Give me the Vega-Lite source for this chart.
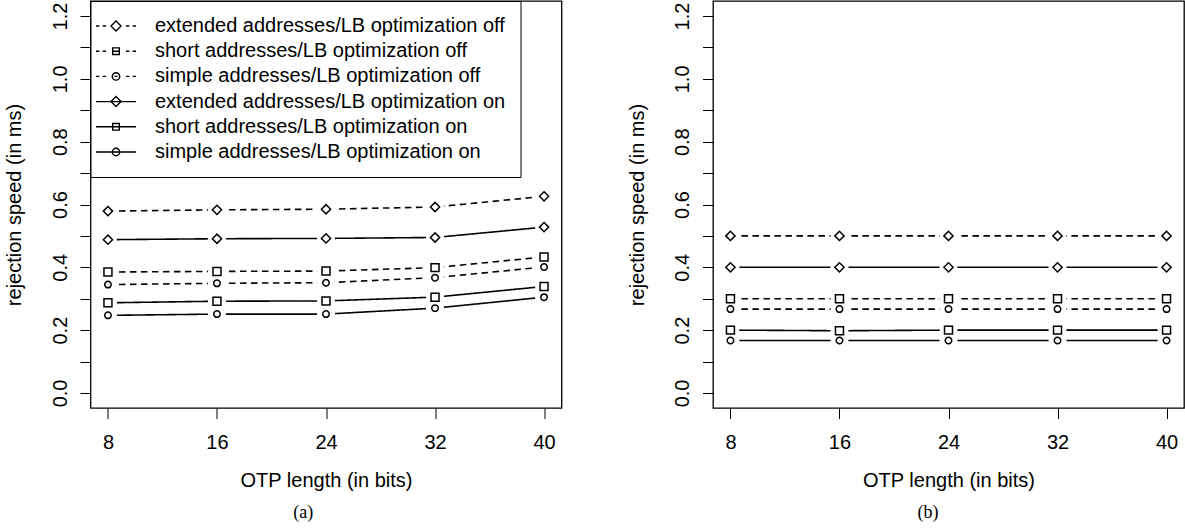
{
  "$schema": "https://vega.github.io/schema/vega-lite/v6.json",
  "background": "white",
  "autosize": {"type": "pad"},
  "padding": {"left": 3.5, "top": -1, "right": 0, "bottom": 0},
  "spacing": 63.5,
  "config": {
    "font": "Liberation Sans",
    "view": {"stroke": "black", "strokeWidth": 1.3},
    "axis": {"grid": false, "domain": false, "tickColor": "black", "tickWidth": 1, "tickSize": 10.5,
      "labelFont": "Liberation Sans", "labelFontSize": 20, "labelColor": "black",
      "titleFont": "Liberation Sans", "titleFontSize": 20, "titleFontWeight": "normal", "titleColor": "black"},
    "title": {"font": "Liberation Serif", "fontSize": 18, "fontWeight": "normal", "color": "black"}
  },
  "datasets": {
    "a": [
      {"series": "extended addresses/LB optimization off", "addr": "extended", "opt": "off", "bits": 8, "speed": 0.579},
      {"series": "extended addresses/LB optimization off", "addr": "extended", "opt": "off", "bits": 16, "speed": 0.583},
      {"series": "extended addresses/LB optimization off", "addr": "extended", "opt": "off", "bits": 24, "speed": 0.585},
      {"series": "extended addresses/LB optimization off", "addr": "extended", "opt": "off", "bits": 32, "speed": 0.592},
      {"series": "extended addresses/LB optimization off", "addr": "extended", "opt": "off", "bits": 40, "speed": 0.626},
      {"series": "short addresses/LB optimization off", "addr": "short", "opt": "off", "bits": 8, "speed": 0.385},
      {"series": "short addresses/LB optimization off", "addr": "short", "opt": "off", "bits": 16, "speed": 0.387},
      {"series": "short addresses/LB optimization off", "addr": "short", "opt": "off", "bits": 24, "speed": 0.388},
      {"series": "short addresses/LB optimization off", "addr": "short", "opt": "off", "bits": 32, "speed": 0.399},
      {"series": "short addresses/LB optimization off", "addr": "short", "opt": "off", "bits": 40, "speed": 0.433},
      {"series": "simple addresses/LB optimization off", "addr": "simple", "opt": "off", "bits": 8, "speed": 0.345},
      {"series": "simple addresses/LB optimization off", "addr": "simple", "opt": "off", "bits": 16, "speed": 0.349},
      {"series": "simple addresses/LB optimization off", "addr": "simple", "opt": "off", "bits": 24, "speed": 0.351},
      {"series": "simple addresses/LB optimization off", "addr": "simple", "opt": "off", "bits": 32, "speed": 0.367},
      {"series": "simple addresses/LB optimization off", "addr": "simple", "opt": "off", "bits": 40, "speed": 0.401},
      {"series": "extended addresses/LB optimization on", "addr": "extended", "opt": "on", "bits": 8, "speed": 0.488},
      {"series": "extended addresses/LB optimization on", "addr": "extended", "opt": "on", "bits": 16, "speed": 0.491},
      {"series": "extended addresses/LB optimization on", "addr": "extended", "opt": "on", "bits": 24, "speed": 0.492},
      {"series": "extended addresses/LB optimization on", "addr": "extended", "opt": "on", "bits": 32, "speed": 0.495},
      {"series": "extended addresses/LB optimization on", "addr": "extended", "opt": "on", "bits": 40, "speed": 0.528},
      {"series": "short addresses/LB optimization on", "addr": "short", "opt": "on", "bits": 8, "speed": 0.287},
      {"series": "short addresses/LB optimization on", "addr": "short", "opt": "on", "bits": 16, "speed": 0.292},
      {"series": "short addresses/LB optimization on", "addr": "short", "opt": "on", "bits": 24, "speed": 0.293},
      {"series": "short addresses/LB optimization on", "addr": "short", "opt": "on", "bits": 32, "speed": 0.305},
      {"series": "short addresses/LB optimization on", "addr": "short", "opt": "on", "bits": 40, "speed": 0.339},
      {"series": "simple addresses/LB optimization on", "addr": "simple", "opt": "on", "bits": 8, "speed": 0.247},
      {"series": "simple addresses/LB optimization on", "addr": "simple", "opt": "on", "bits": 16, "speed": 0.251},
      {"series": "simple addresses/LB optimization on", "addr": "simple", "opt": "on", "bits": 24, "speed": 0.251},
      {"series": "simple addresses/LB optimization on", "addr": "simple", "opt": "on", "bits": 32, "speed": 0.270},
      {"series": "simple addresses/LB optimization on", "addr": "simple", "opt": "on", "bits": 40, "speed": 0.305}
    ],
    "b": [
      {"series": "extended addresses/LB optimization off", "addr": "extended", "opt": "off", "bits": 8, "speed": 0.500},
      {"series": "extended addresses/LB optimization off", "addr": "extended", "opt": "off", "bits": 16, "speed": 0.500},
      {"series": "extended addresses/LB optimization off", "addr": "extended", "opt": "off", "bits": 24, "speed": 0.500},
      {"series": "extended addresses/LB optimization off", "addr": "extended", "opt": "off", "bits": 32, "speed": 0.500},
      {"series": "extended addresses/LB optimization off", "addr": "extended", "opt": "off", "bits": 40, "speed": 0.500},
      {"series": "short addresses/LB optimization off", "addr": "short", "opt": "off", "bits": 8, "speed": 0.300},
      {"series": "short addresses/LB optimization off", "addr": "short", "opt": "off", "bits": 16, "speed": 0.300},
      {"series": "short addresses/LB optimization off", "addr": "short", "opt": "off", "bits": 24, "speed": 0.300},
      {"series": "short addresses/LB optimization off", "addr": "short", "opt": "off", "bits": 32, "speed": 0.300},
      {"series": "short addresses/LB optimization off", "addr": "short", "opt": "off", "bits": 40, "speed": 0.300},
      {"series": "simple addresses/LB optimization off", "addr": "simple", "opt": "off", "bits": 8, "speed": 0.267},
      {"series": "simple addresses/LB optimization off", "addr": "simple", "opt": "off", "bits": 16, "speed": 0.267},
      {"series": "simple addresses/LB optimization off", "addr": "simple", "opt": "off", "bits": 24, "speed": 0.267},
      {"series": "simple addresses/LB optimization off", "addr": "simple", "opt": "off", "bits": 32, "speed": 0.267},
      {"series": "simple addresses/LB optimization off", "addr": "simple", "opt": "off", "bits": 40, "speed": 0.267},
      {"series": "extended addresses/LB optimization on", "addr": "extended", "opt": "on", "bits": 8, "speed": 0.400},
      {"series": "extended addresses/LB optimization on", "addr": "extended", "opt": "on", "bits": 16, "speed": 0.400},
      {"series": "extended addresses/LB optimization on", "addr": "extended", "opt": "on", "bits": 24, "speed": 0.400},
      {"series": "extended addresses/LB optimization on", "addr": "extended", "opt": "on", "bits": 32, "speed": 0.400},
      {"series": "extended addresses/LB optimization on", "addr": "extended", "opt": "on", "bits": 40, "speed": 0.400},
      {"series": "short addresses/LB optimization on", "addr": "short", "opt": "on", "bits": 8, "speed": 0.200},
      {"series": "short addresses/LB optimization on", "addr": "short", "opt": "on", "bits": 16, "speed": 0.198},
      {"series": "short addresses/LB optimization on", "addr": "short", "opt": "on", "bits": 24, "speed": 0.200},
      {"series": "short addresses/LB optimization on", "addr": "short", "opt": "on", "bits": 32, "speed": 0.200},
      {"series": "short addresses/LB optimization on", "addr": "short", "opt": "on", "bits": 40, "speed": 0.200},
      {"series": "simple addresses/LB optimization on", "addr": "simple", "opt": "on", "bits": 8, "speed": 0.167},
      {"series": "simple addresses/LB optimization on", "addr": "simple", "opt": "on", "bits": 16, "speed": 0.167},
      {"series": "simple addresses/LB optimization on", "addr": "simple", "opt": "on", "bits": 24, "speed": 0.167},
      {"series": "simple addresses/LB optimization on", "addr": "simple", "opt": "on", "bits": 32, "speed": 0.167},
      {"series": "simple addresses/LB optimization on", "addr": "simple", "opt": "on", "bits": 40, "speed": 0.167}
    ]
  },
  "hconcat": [
    {
      "width": 471, "height": 407,
      "data": {"name": "a"},
      "title": {"text": "(a)", "orient": "bottom", "offset": 14, "dx": -22.7},
      "encoding": {
        "x": {"field": "bits", "type": "quantitative",
          "scale": {"domain": [6.72, 41.28], "nice": false, "zero": false},
          "axis": {"values": [8, 16, 24, 32, 40], "labelPadding": 13.6, "labelFlush": false, "labelOverlap": false,
            "title": "OTP length (in bits)", "titleY": 78, "titleBaseline": "alphabetic"}},
        "y": {"field": "speed", "type": "quantitative",
          "scale": {"domain": [-0.048, 1.248], "nice": false, "zero": false},
          "axis": {"values": [0, 0.1, 0.2, 0.3, 0.4, 0.5, 0.6, 0.7, 0.8, 0.9, 1.0, 1.1, 1.2],
            "labelExpr": "round(datum.value*10) % 2 == 0 ? format(datum.value, '.1f') : ''",
            "labelAngle": 270, "labelAlign": "center", "labelBaseline": "alphabetic", "labelPadding": 14,
            "labelFlush": false, "labelOverlap": false,
            "title": "rejection speed (in ms)", "titleX": -70, "titleBaseline": "alphabetic"}}
      },
      "layer": [
        {"mark": {"type": "line", "color": "black", "strokeWidth": 1.6},
          "encoding": {"detail": {"field": "series"},
            "strokeDash": {"field": "opt", "type": "nominal", "scale": {"domain": ["off", "on"], "range": [[6.5, 4.5], [1, 0]]}, "legend": null}}},
        {"mark": {"type": "point", "shape": "circle", "filled": true, "color": "white", "opacity": 1, "size": 324, "strokeWidth": 0}},
        {"mark": {"type": "point", "filled": false, "color": "black", "strokeWidth": 1.5, "opacity": 1},
          "encoding": {
            "shape": {"field": "addr", "type": "nominal", "scale": {"domain": ["extended", "short", "simple"], "range": ["diamond", "square", "circle"]}, "legend": null},
            "size": {"field": "addr", "type": "ordinal", "scale": {"domain": ["extended", "short", "simple"], "range": [85, 42, 53]}, "legend": null}}},
        {"transform": [{"filter": "false"}],
          "mark": {"type": "point", "filled": false, "color": "black", "strokeWidth": 1.4, "opacity": 1, "size": 100},
          "encoding": {
            "shape": {"field": "series", "type": "nominal",
              "scale": {"domain": [
                "extended addresses/LB optimization off",
                "short addresses/LB optimization off",
                "simple addresses/LB optimization off",
                "extended addresses/LB optimization on",
                "short addresses/LB optimization on",
                "simple addresses/LB optimization on"],
                "range": [
                  "M -3.9 0 H -3.233 M -2.567 0 H -1.9 M 2.1 0 H 2.767 M 3.433 0 H 4.1 M -0.9 0 L 0.1 -1 L 1.1 0 L 0.1 1 Z",
                  "M -3.9 0 H -3.233 M -2.567 0 H -1.9 M 2.1 0 H 2.767 M 3.433 0 H 4.1 M -0.56 0 H 0.76 M -0.56 -0.66 H 0.76 V 0.66 H -0.56 Z",
                  "M -3.9 0 H -3.233 M -2.567 0 H -1.9 M 2.1 0 H 2.767 M 3.433 0 H 4.1 M -0.2 0 H 0.4 M 0.84 0 A 0.74 0.74 0 1 1 -0.64 0 A 0.74 0.74 0 1 1 0.84 0 Z",
                  "M -3.9 0 H 4.1 M -0.9 0 L 0.1 -1 L 1.1 0 L 0.1 1 Z",
                  "M -3.9 0 H 4.1 M -0.56 -0.66 H 0.76 V 0.66 H -0.56 Z",
                  "M -3.9 0 H 4.1 M 0.84 0 A 0.74 0.74 0 1 1 -0.64 0 A 0.74 0.74 0 1 1 0.84 0 Z"]},
              "legend": {"title": null, "orient": "top-left", "offset": 0, "padding": 15, "rowPadding": 5.2,
                "labelFont": "Liberation Sans", "labelFontSize": 20, "labelColor": "black", "labelOffset": 29.5, "labelLimit": 0,
                "symbolSize": 100, "symbolStrokeWidth": 1.4, "symbolStrokeColor": "black", "symbolFillColor": "transparent", "symbolOpacity": 1,
                "strokeColor": "black", "fillColor": "white"}}}}
      ],
      "resolve": {"scale": {"shape": "independent", "size": "independent"}, "legend": {"shape": "independent"}}
    },
    {
      "width": 471, "height": 407,
      "data": {"name": "b"},
      "title": {"text": "(b)", "orient": "bottom", "offset": 14, "dx": -20.6},
      "encoding": {
        "x": {"field": "bits", "type": "quantitative",
          "scale": {"domain": [6.72, 41.28], "nice": false, "zero": false},
          "axis": {"values": [8, 16, 24, 32, 40], "labelPadding": 13.6, "labelFlush": false, "labelOverlap": false,
            "title": "OTP length (in bits)", "titleY": 78, "titleBaseline": "alphabetic"}},
        "y": {"field": "speed", "type": "quantitative",
          "scale": {"domain": [-0.048, 1.248], "nice": false, "zero": false},
          "axis": {"values": [0, 0.1, 0.2, 0.3, 0.4, 0.5, 0.6, 0.7, 0.8, 0.9, 1.0, 1.1, 1.2],
            "labelExpr": "round(datum.value*10) % 2 == 0 ? format(datum.value, '.1f') : ''",
            "labelAngle": 270, "labelAlign": "center", "labelBaseline": "alphabetic", "labelPadding": 14,
            "labelFlush": false, "labelOverlap": false,
            "title": "rejection speed (in ms)", "titleX": -70, "titleBaseline": "alphabetic"}}
      },
      "layer": [
        {"mark": {"type": "line", "color": "black", "strokeWidth": 1.6},
          "encoding": {"detail": {"field": "series"},
            "strokeDash": {"field": "opt", "type": "nominal", "scale": {"domain": ["off", "on"], "range": [[6.5, 4.5], [1, 0]]}, "legend": null}}},
        {"mark": {"type": "point", "shape": "circle", "filled": true, "color": "white", "opacity": 1, "size": 324, "strokeWidth": 0}},
        {"mark": {"type": "point", "filled": false, "color": "black", "strokeWidth": 1.5, "opacity": 1},
          "encoding": {
            "shape": {"field": "addr", "type": "nominal", "scale": {"domain": ["extended", "short", "simple"], "range": ["diamond", "square", "circle"]}, "legend": null},
            "size": {"field": "addr", "type": "ordinal", "scale": {"domain": ["extended", "short", "simple"], "range": [85, 42, 53]}, "legend": null}}}
      ]
    }
  ]
}
